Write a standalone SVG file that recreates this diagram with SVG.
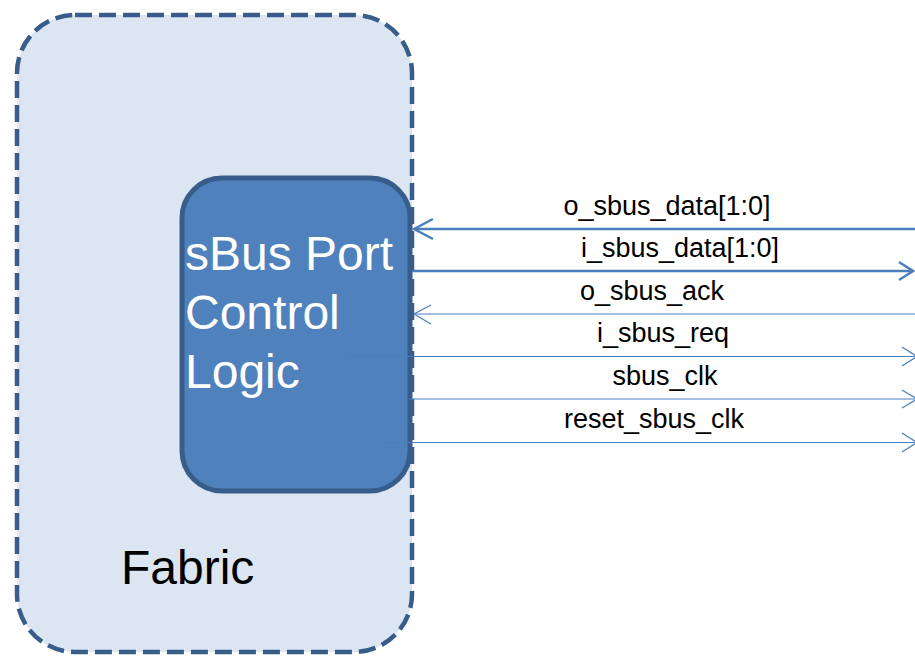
<svg xmlns="http://www.w3.org/2000/svg" width="915" height="656" viewBox="0 0 915 656">
  <style>
    .fabric { fill: #dce6f2; stroke: #385d8a; stroke-width: 4.5; stroke-dasharray: 17 7; }
    .block { fill: #4f81bd; stroke: #385d8a; stroke-width: 5; }
    .big { font-family: "Liberation Sans", Arial, sans-serif; font-size: 48px; }
    .sig { font-family: "Liberation Sans", Arial, sans-serif; font-size: 27px; fill: #000; text-anchor: middle; }
    .bus { stroke: #4a7ebb; stroke-width: 2.4; fill: none; }
    .wire { stroke: #4a7ebb; stroke-width: 1.2; fill: none; }
  </style>

  <!-- Fabric container -->
  <g id="fabric">
    <rect class="fabric" x="17" y="15" width="395" height="637" rx="58" ry="58"/>
    <text class="big" x="121" y="584" fill="#000">Fabric</text>
  </g>

  <!-- sBus port control block -->
  <g id="sbus-port-control">
    <rect class="block" x="182" y="178" width="228" height="313" rx="40" ry="40"/>
    <text class="big" fill="#fff">
      <tspan x="185" y="270">sBus Port</tspan>
      <tspan x="185" y="329">Control</tspan>
      <tspan x="185" y="388">Logic</tspan>
    </text>
  </g>

  <!-- Signals -->
  <g id="connectors">
    <!-- o_sbus_data[1:0] : inbound bus -->
    <line class="bus" x1="414" y1="229" x2="915" y2="229"/>
    <polyline class="bus" points="433,219 414,229 433,239"/>
    <!-- i_sbus_data[1:0] : outbound bus -->
    <line class="bus" x1="412" y1="271" x2="913" y2="271"/>
    <polyline class="bus" points="899,262 913,271 899,280"/>
    <!-- o_sbus_ack -->
    <line class="wire" x1="414" y1="314" x2="915" y2="314"/>
    <polyline class="wire" points="431,305 414,314 431,324"/>
    <!-- i_sbus_req -->
    <line class="wire" x1="346" y1="356.5" x2="917" y2="356.5"/>
    <polyline class="wire" points="902,347 917,356.5 902,366"/>
    <!-- sbus_clk -->
    <line class="wire" x1="409" y1="399" x2="917" y2="399"/>
    <polyline class="wire" points="902,390 917,399 902,408"/>
    <!-- reset_sbus_clk -->
    <line class="wire" x1="380" y1="442.5" x2="917" y2="442.5"/>
    <polyline class="wire" points="902,433 917,442.5 902,452"/>
  </g>

  <g id="signal-labels">
    <text class="sig" x="667" y="215">o_sbus_data[1:0]</text>
    <text class="sig" x="680" y="257">i_sbus_data[1:0]</text>
    <text class="sig" x="652" y="300">o_sbus_ack</text>
    <text class="sig" x="663" y="342">i_sbus_req</text>
    <text class="sig" x="665" y="385">sbus_clk</text>
    <text class="sig" x="654" y="428">reset_sbus_clk</text>
  </g>
</svg>
